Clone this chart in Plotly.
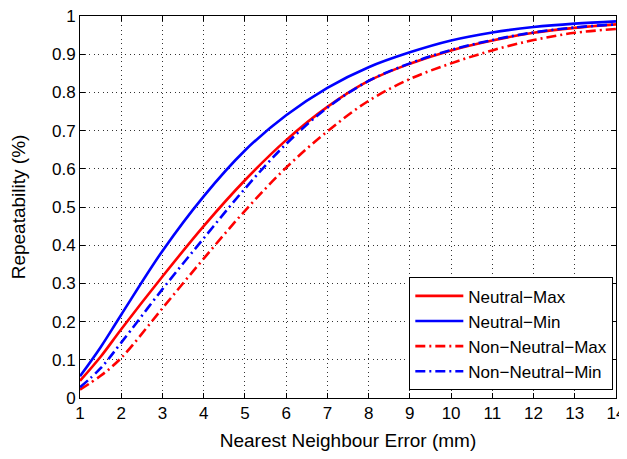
import plotly.graph_objects as go

x_err = [1, 1.5, 2, 3, 4, 5, 6, 7, 8, 9, 10, 11, 12, 13, 14]

neutral_max = [0.045, 0.108, 0.180, 0.318, 0.450, 0.570, 0.675, 0.762, 0.830, 0.875, 0.910, 0.936, 0.956, 0.969, 0.978]
neutral_min = [0.057, 0.133, 0.218, 0.385, 0.528, 0.648, 0.740, 0.812, 0.866, 0.905, 0.936, 0.957, 0.971, 0.980, 0.986]
non_neutral_max = [0.022, 0.058, 0.105, 0.235, 0.365, 0.490, 0.603, 0.698, 0.778, 0.835, 0.876, 0.910, 0.937, 0.956, 0.966]
non_neutral_min = [0.028, 0.078, 0.145, 0.285, 0.418, 0.548, 0.665, 0.760, 0.830, 0.876, 0.911, 0.937, 0.957, 0.970, 0.978]

series_names = ["Neutral\u2212Max", "Neutral\u2212Min", "Non\u2212Neutral\u2212Max", "Non\u2212Neutral\u2212Min"]
x_ticks = list(range(1, 15))
y_ticks = [0, 0.1, 0.2, 0.3, 0.4, 0.5, 0.6, 0.7, 0.8, 0.9, 1]
y_tick_text = ["0", "0.1", "0.2", "0.3", "0.4", "0.5", "0.6", "0.7", "0.8", "0.9", "1"]

dashdot = "10px,4px,2px,4px"
styles = [("#ff0000", "solid"), ("#0000ff", "solid"), ("#ff0000", dashdot), ("#0000ff", dashdot)]
data = [neutral_max, neutral_min, non_neutral_max, non_neutral_min]

fig = go.Figure()
for name, ys, (c, d) in zip(series_names, data, styles):
    fig.add_trace(go.Scatter(x=x_err, y=ys, mode="lines", name=name,
                             line=dict(color=c, width=2.6, dash=d, shape="spline", smoothing=1.0)))

font = "Liberation Sans, Arial, Helvetica, sans-serif"
axis_common = dict(showline=True, linecolor="black", linewidth=1, mirror="allticks",
                   ticks="inside", ticklen=5, tickcolor="black", automargin=False,
                   ticklabeloverflow="allow",
                   showgrid=True, gridcolor="#333333", griddash="1px,3.5px", gridwidth=1,
                   zeroline=False, tickfont=dict(family=font, size=17, color="black"))

# The page body adds an 8px offset, so the figure is sized to the remaining area.
fig.update_layout(
    width=619, height=451,
    margin=dict(l=72, r=11, t=8, b=61),
    paper_bgcolor="white", plot_bgcolor="white",
    font=dict(family=font, size=17, color="black"),
    xaxis=dict(range=[1, 14], tickvals=x_ticks,
               title=dict(text="Nearest Neighbour Error (mm)", font=dict(size=19), standoff=11),
               **axis_common),
    yaxis=dict(range=[0, 1], tickvals=y_ticks, ticktext=y_tick_text,
               title=dict(text="Repeatability (%)", font=dict(size=19), standoff=21),
               **axis_common),
    legend=dict(x=0.995, y=0.02, xanchor="right", yanchor="bottom",
                bgcolor="white", bordercolor="black", borderwidth=1,
                font=dict(family=font, size=17, color="black"),
                tracegroupgap=0, itemwidth=48),
    showlegend=True,
)

fig.write_html("out.html")
